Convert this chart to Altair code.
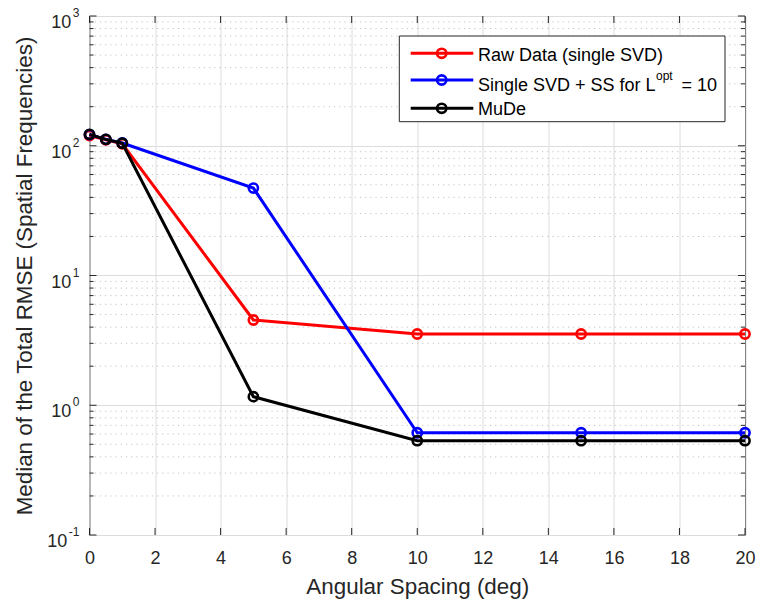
import altair as alt
import pandas as pd

# Measured RMSE medians versus angular spacing
spacing = [0, 0.5, 1, 5, 10, 15, 20]
raw_single_svd = [120, 111, 103.5, 4.54, 3.54, 3.54, 3.54]
single_svd_ss = [122, 112, 105, 47.2, 0.614, 0.614, 0.614]
mude = [122.5, 112, 104.5, 1.164, 0.533, 0.533, 0.533]

series_labels = ["Raw Data (single SVD)", "Single SVD + SS for L", "MuDe"]
series_colors = ["#ff0000", "#0000ff", "#000000"]
series_values = [raw_single_svd, single_svd_ss, mude]

x_ticks = list(range(0, 21, 2))
y_decades = [0.1, 1, 10, 100, 1000]
decade_exponents = ["-1", "0", "1", "2", "3"]

W, H = 655.5, 519
AX = "#262626"
FONT = "Liberation Sans"

xscale = alt.Scale(domain=[0, 20], nice=False, zero=False)
yscale = alt.Scale(type="log", domain=[0.1, 1000], nice=False)

minor_vals = [m * 10 ** e for e in range(-1, 3) for m in range(2, 10)]
minor_df = pd.DataFrame({"v": minor_vals})
major_df = pd.DataFrame({"v": y_decades})
xtick_df = pd.DataFrame({"t": x_ticks})


def exp_width(s):
    w = {"-": 0.333, "0": 0.556, "1": 0.556, "2": 0.556, "3": 0.556}
    return sum(w[c] for c in s) * 12


label_df = pd.DataFrame({
    "v": y_decades,
    "e": decade_exponents,
    "bx": [-10 - exp_width(e) - 1.5 for e in decade_exponents],
})

layers = []

# axes: major grid lines, tick labels on x, both titles
layers.append(
    alt.Chart(xtick_df).mark_rule(opacity=0).encode(
        x=alt.X("t:Q", scale=xscale, axis=alt.Axis(
            values=x_ticks, grid=True, gridColor="#dcdcdc", gridWidth=1,
            tickSize=0, domain=False, labelFont=FONT, labelFontSize=18,
            labelColor=AX, labelPadding=14, labelFlush=False,
            title="Angular Spacing (deg)",
            titleFont=FONT, titleFontSize=22.4, titleFontWeight="normal",
            titleColor=AX, titlePadding=8)),
    )
)
layers.append(
    alt.Chart(major_df).mark_rule(opacity=0).encode(
        y=alt.Y("v:Q", scale=yscale, axis=alt.Axis(
            values=y_decades, grid=True, gridColor="#dcdcdc", gridWidth=1,
            tickSize=0, domain=False, labels=False,
            title="Median of the Total RMSE (Spatial Frequencies)",
            titleFont=FONT, titleFontSize=22.4, titleFontWeight="normal",
            titleColor=AX, titlePadding=53)),
    )
)

# dotted minor grid for the log axis
layers.append(
    alt.Chart(minor_df).mark_rule(color="#c4c4c4", strokeWidth=1, strokeDash=[1.2, 4]).encode(
        y=alt.Y("v:Q", scale=yscale, axis=None),
        x=alt.value(0), x2=alt.value(W),
    )
)

# inward ticks on all four sides
for df, length in [(major_df, 7), (minor_df, 4)]:
    layers.append(alt.Chart(df).mark_rule(color=AX, strokeWidth=1).encode(
        y=alt.Y("v:Q", scale=yscale, axis=None), x=alt.value(0), x2=alt.value(length)))
    layers.append(alt.Chart(df).mark_rule(color=AX, strokeWidth=1).encode(
        y=alt.Y("v:Q", scale=yscale, axis=None), x=alt.value(W - length), x2=alt.value(W)))
layers.append(alt.Chart(xtick_df).mark_rule(color=AX, strokeWidth=1).encode(
    x=alt.X("t:Q", scale=xscale, axis=None), y=alt.value(H - 7), y2=alt.value(H)))
layers.append(alt.Chart(xtick_df).mark_rule(color=AX, strokeWidth=1).encode(
    x=alt.X("t:Q", scale=xscale, axis=None), y=alt.value(0), y2=alt.value(7)))

# y tick labels as 10 with superscript exponent
layers.append(alt.Chart(label_df).mark_text(
    font=FONT, fontSize=18, color=AX, align="right", baseline="alphabetic", dy=12).encode(
    y=alt.Y("v:Q", scale=yscale, axis=None),
    x=alt.X("bx:Q", scale=None),
    text=alt.value("10"),
))
layers.append(alt.Chart(label_df).mark_text(
    font=FONT, fontSize=12, color=AX, align="right", baseline="alphabetic", dy=1).encode(
    y=alt.Y("v:Q", scale=yscale, axis=None),
    x=alt.value(-10),
    text="e:N",
))

# data series
for label, color, vals in zip(series_labels, series_colors, series_values):
    df = pd.DataFrame({"spacing": spacing, "rmse": vals, "series": label})
    base = alt.Chart(df).encode(
        x=alt.X("spacing:Q", scale=xscale, axis=None),
        y=alt.Y("rmse:Q", scale=yscale, axis=None),
    )
    layers.append(base.mark_line(color=color, strokeWidth=3))
    layers.append(base.mark_point(shape="circle", filled=False, color=color,
                                  strokeWidth=2.6, size=85, opacity=1))

# legend box
LX0, LX1, LY0, LY1 = 309.8, 635.5, 20, 105.7
one = pd.DataFrame({"k": [0]})
layers.append(alt.Chart(one).mark_rect(fill="white", stroke=AX, strokeWidth=1).encode(
    x=alt.value(LX0), x2=alt.value(LX1), y=alt.value(LY0), y2=alt.value(LY1)))

row_y = [37.3, 64, 92.3]
text_base = [44.5, 74.5, 99]
for label, color, ry, tb in zip(series_labels, series_colors, row_y, text_base):
    row = pd.DataFrame({"label": [label]})
    layers.append(alt.Chart(row).mark_rule(color=color, strokeWidth=3).encode(
        x=alt.value(321.2), x2=alt.value(383.8), y=alt.value(ry)))
    layers.append(alt.Chart(row).mark_point(shape="circle", filled=False, color=color,
                                            strokeWidth=2.6, size=85, opacity=1).encode(
        x=alt.value(352.2), y=alt.value(ry)))
    layers.append(alt.Chart(row).mark_text(font=FONT, fontSize=18, color="black",
                                           align="left", baseline="alphabetic").encode(
        x=alt.value(388.4), y=alt.value(tb), text="label:N"))

# superscript and remainder of the second legend entry
layers.append(alt.Chart(one).mark_text(font=FONT, fontSize=12, color="black",
                                       align="left", baseline="alphabetic").encode(
    x=alt.value(566.5), y=alt.value(64), text=alt.value("opt")))
layers.append(alt.Chart(one).mark_text(font=FONT, fontSize=18, color="black",
                                       align="left", baseline="alphabetic").encode(
    x=alt.value(592), y=alt.value(74.5), text=alt.value("= 10")))

chart = alt.layer(*layers).resolve_axis(
    x="independent", y="independent"
).properties(
    width=W, height=H,
    autosize=alt.AutoSizeParams(type="none"),
    padding={"left": 89.5, "top": 16, "right": 13, "bottom": 65},
    background="white",
).configure_view(stroke=AX, strokeWidth=1)

chart.save("out.html", embed_options={"renderer": "svg", "actions": False})
